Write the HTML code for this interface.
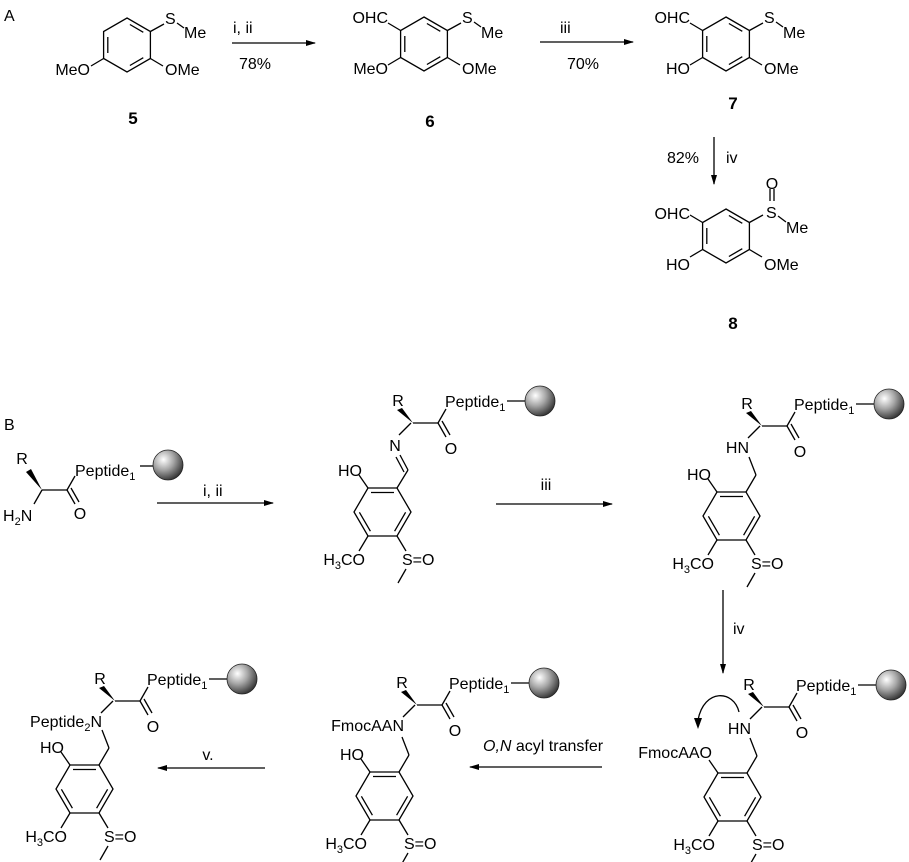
<!DOCTYPE html>
<html><head><meta charset="utf-8"><style>
html,body{margin:0;padding:0;background:#fff}
svg{display:block}
text{font-family:"Liberation Sans",Arial,sans-serif;font-size:16px;fill:#000}
.b{font-weight:bold;font-size:17px}
</style></head><body>
<svg width="909" height="862" viewBox="0 0 909 862" xmlns="http://www.w3.org/2000/svg">
<defs>
<radialGradient id="g" cx="0.35" cy="0.32" r="0.75">
<stop offset="0" stop-color="#ffffff"/><stop offset="0.45" stop-color="#a8a8a8"/><stop offset="1" stop-color="#2a2a2a"/>
</radialGradient>
<marker id="ah" markerWidth="10" markerHeight="8" refX="9" refY="4" orient="auto" markerUnits="userSpaceOnUse">
<path d="M0,1 L10,4 L0,7 Z" fill="#000"/></marker>
<g id="ringA" stroke="#000" stroke-width="1.3" fill="none">
<path d="M0,-27 L23.4,-13.5 L23.4,13.5 L0,27 L-23.4,13.5 L-23.4,-13.5 Z"/>
<line x1="-19.2" y1="-8" x2="-19.2" y2="8"/>
<line x1="2.9" y1="-20.5" x2="16.3" y2="-12.7"/>
<line x1="16.3" y1="12.7" x2="2.9" y2="20.5"/>
<line x1="-23.4" y1="13.5" x2="-36" y2="21"/>
<line x1="23.4" y1="-13.5" x2="37" y2="-21"/>
<line x1="23.4" y1="13.5" x2="36" y2="21"/>
</g>
<g id="ringB" stroke="#000" stroke-width="1.3" fill="none">
<path d="M0,0 L29,0 L43,24 L29,48 L0,48 L-14,24 Z"/>
<line x1="3" y1="4.5" x2="26" y2="4.5"/>
<line x1="-8.6" y1="24.3" x2="2.4" y2="43.2"/>
<line x1="37.6" y1="24.3" x2="26.6" y2="43.2"/>
<line x1="0" y1="0" x2="-9" y2="-13"/>
<line x1="0" y1="48" x2="-9" y2="63"/>
<line x1="29" y1="48" x2="38" y2="63"/>
<line x1="38" y1="81" x2="30" y2="95"/>
</g>
<g id="amide">
<g stroke="#000" stroke-width="1.3" fill="none">
<line x1="6" y1="-8" x2="18" y2="-20"/>
<line x1="20" y1="-20" x2="45" y2="-20"/>
<line x1="45" y1="-20" x2="53" y2="-34"/>
<line x1="45" y1="-20" x2="53" y2="-6"/>
<line x1="49" y1="-22" x2="57" y2="-8"/>
<line x1="114" y1="-42" x2="132" y2="-42"/>
</g>
<polygon points="20,-20 4,-33 9,-35" fill="#000"/>
<text x="5" y="-37" text-anchor="middle">R</text>
<text x="52" y="-36">Peptide<tspan font-size="11" dy="4">1</tspan></text>
<text x="58" y="11" text-anchor="middle">O</text>
<circle cx="147" cy="-42" r="15" fill="url(#g)" stroke="#222" stroke-width="0.8"/>
</g>
</defs>

<!-- Part A -->
<text x="4" y="21">A</text>
<use href="#ringA" x="127" y="45"/>
<text x="90" y="75" text-anchor="end">MeO</text>
<text x="165" y="24">S</text>
<line x1="177" y1="23" x2="184" y2="28" stroke="#000" stroke-width="1.3"/>
<text x="184" y="38">Me</text>
<text x="165" y="75">OMe</text>
<text x="133" y="124" text-anchor="middle" class="b">5</text>
<line x1="232" y1="43" x2="315" y2="43" stroke="#000" stroke-width="1.3" marker-end="url(#ah)"/>
<text x="233" y="33">i, ii</text>
<text x="239" y="69">78%</text>
<use href="#ringA" x="424" y="44"/>
<line x1="400.6" y1="30.5" x2="388" y2="23" stroke="#000" stroke-width="1.3"/>
<text x="388" y="23" text-anchor="end">OHC</text>
<text x="388" y="74" text-anchor="end">MeO</text>
<text x="462" y="23">S</text>
<line x1="474" y1="22" x2="481" y2="27" stroke="#000" stroke-width="1.3"/>
<text x="481" y="38">Me</text>
<text x="462" y="74">OMe</text>
<text x="430" y="127" text-anchor="middle" class="b">6</text>
<line x1="540" y1="42" x2="633" y2="42" stroke="#000" stroke-width="1.3" marker-end="url(#ah)"/>
<text x="560" y="33">iii</text>
<text x="567" y="69">70%</text>
<use href="#ringA" x="726" y="44"/>
<line x1="702.6" y1="30.5" x2="690" y2="23" stroke="#000" stroke-width="1.3"/>
<text x="690" y="23" text-anchor="end">OHC</text>
<text x="690" y="74" text-anchor="end">HO</text>
<text x="764" y="23">S</text>
<line x1="776" y1="22" x2="783" y2="27" stroke="#000" stroke-width="1.3"/>
<text x="783" y="38">Me</text>
<text x="764" y="74">OMe</text>
<text x="733" y="109" text-anchor="middle" class="b">7</text>
<line x1="714" y1="137" x2="714" y2="184" stroke="#000" stroke-width="1.3" marker-end="url(#ah)"/>
<text x="667" y="163">82%</text>
<text x="726" y="163">iv</text>
<use href="#ringA" x="726" y="236"/>
<line x1="702.6" y1="222.5" x2="690" y2="215" stroke="#000" stroke-width="1.3"/>
<text x="690" y="219" text-anchor="end">OHC</text>
<text x="690" y="270" text-anchor="end">HO</text>
<text x="766" y="218">S</text>
<line x1="770" y1="189" x2="770" y2="201" stroke="#000" stroke-width="1.3"/>
<line x1="774" y1="189" x2="774" y2="201" stroke="#000" stroke-width="1.3"/>
<text x="772" y="189" text-anchor="middle">O</text>
<line x1="778" y1="216" x2="786" y2="222" stroke="#000" stroke-width="1.3"/>
<text x="786" y="233">Me</text>
<text x="764" y="270">OMe</text>
<text x="733" y="329" text-anchor="middle" class="b">8</text>

<!-- Part B -->
<text x="4" y="430">B</text>
<g stroke="#000" stroke-width="1.3" fill="none">
<line x1="42" y1="490" x2="34" y2="504"/>
<line x1="42" y1="490" x2="67" y2="490"/>
<line x1="67" y1="490" x2="75" y2="476"/>
<line x1="67" y1="490" x2="75" y2="504"/>
<line x1="71" y1="488" x2="79" y2="502"/>
<line x1="140" y1="466" x2="153" y2="466"/>
</g>
<polygon points="42,490 26,472 31,469" fill="#000"/>
<text x="22" y="464" text-anchor="middle">R</text>
<text x="75" y="476">Peptide<tspan font-size="11" dy="4">1</tspan></text>
<circle cx="168" cy="465" r="15" fill="url(#g)" stroke="#222" stroke-width="0.8"/>
<text x="3" y="521">H<tspan font-size="11" dy="4">2</tspan><tspan dy="-4">N</tspan></text>
<text x="80" y="519" text-anchor="middle">O</text>
<line x1="157" y1="503" x2="273" y2="503" stroke="#000" stroke-width="1.3" marker-end="url(#ah)"/>
<text x="203" y="496">i, ii</text>

<use href="#ringB" x="368" y="488"/>
<text x="362" y="476" text-anchor="end">HO</text>
<text x="365" y="565" text-anchor="end">H<tspan font-size="11" dy="4">3</tspan><tspan dy="-4">CO</tspan></text>
<text x="402" y="565">S=O</text>
<g stroke="#000" stroke-width="1.3">
<line x1="397" y1="488" x2="408" y2="470"/>
<line x1="408" y1="470" x2="400" y2="455"/>
<line x1="404" y1="472" x2="396" y2="457"/>
</g>
<text x="395" y="451" text-anchor="middle">N</text>
<use href="#amide" x="393" y="443"/>
<line x1="496" y1="504" x2="612" y2="504" stroke="#000" stroke-width="1.3" marker-end="url(#ah)"/>
<text x="546" y="490" text-anchor="middle">iii</text>

<use href="#ringB" x="717" y="492"/>
<g stroke="#000" stroke-width="1.3"><line x1="746" y1="492" x2="756" y2="475"/><line x1="756" y1="475" x2="749" y2="457"/></g>
<text x="711" y="480" text-anchor="end">HO</text>
<text x="714" y="569" text-anchor="end">H<tspan font-size="11" dy="4">3</tspan><tspan dy="-4">CO</tspan></text>
<text x="751" y="569">S=O</text>
<text x="749" y="453" text-anchor="end">HN</text>
<use href="#amide" x="742" y="446"/>
<line x1="723" y1="590" x2="723" y2="673" stroke="#000" stroke-width="1.3" marker-end="url(#ah)"/>
<text x="733" y="634">iv</text>

<use href="#ringB" x="718" y="773"/>
<g stroke="#000" stroke-width="1.3"><line x1="747" y1="773" x2="757" y2="756"/><line x1="757" y1="756" x2="750" y2="738"/></g>
<text x="712" y="758" text-anchor="end">FmocAAO</text>
<text x="715" y="850" text-anchor="end">H<tspan font-size="11" dy="4">3</tspan><tspan dy="-4">CO</tspan></text>
<text x="752" y="850">S=O</text>
<text x="751" y="734" text-anchor="end">HN</text>
<use href="#amide" x="744" y="727"/>
<path d="M739,712 C734,690 704,688 698,720" stroke="#000" stroke-width="1.3" fill="none"/>
<path d="M694,718 L698,729 L702,718 Z" fill="#000"/>

<line x1="602" y1="767" x2="470" y2="767" stroke="#000" stroke-width="1.3" marker-end="url(#ah)"/>
<text x="483" y="751"><tspan font-style="italic">O,N</tspan> acyl transfer</text>

<use href="#ringB" x="370" y="772"/>
<g stroke="#000" stroke-width="1.3"><line x1="399" y1="772" x2="409" y2="755"/><line x1="409" y1="755" x2="402" y2="737"/></g>
<text x="364" y="760" text-anchor="end">HO</text>
<text x="367" y="849" text-anchor="end">H<tspan font-size="11" dy="4">3</tspan><tspan dy="-4">CO</tspan></text>
<text x="404" y="849">S=O</text>
<text x="404" y="731" text-anchor="end">FmocAAN</text>
<use href="#amide" x="397" y="725"/>

<line x1="265" y1="768" x2="158" y2="768" stroke="#000" stroke-width="1.3" marker-end="url(#ah)"/>
<text x="208" y="760" text-anchor="middle">v.</text>

<use href="#ringB" x="70" y="765"/>
<g stroke="#000" stroke-width="1.3"><line x1="99" y1="765" x2="109" y2="748"/><line x1="109" y1="748" x2="102" y2="730"/></g>
<text x="64" y="753" text-anchor="end">HO</text>
<text x="67" y="842" text-anchor="end">H<tspan font-size="11" dy="4">3</tspan><tspan dy="-4">CO</tspan></text>
<text x="104" y="842">S=O</text>
<text x="102" y="727" text-anchor="end">Peptide<tspan font-size="11" dy="4">2</tspan><tspan dy="-4">N</tspan></text>
<use href="#amide" x="95" y="721"/>
</svg>
</body></html>
